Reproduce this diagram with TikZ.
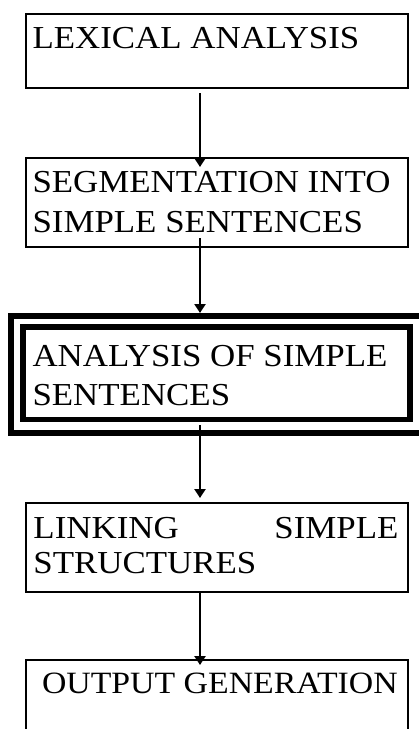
\documentclass[tikz,border=0pt]{standalone}
\usepackage{fontspec}
\setmainfont[FakeStretch=1.09]{Liberation Serif}
\usetikzlibrary{arrows.meta}
\begin{document}
\begin{tikzpicture}[x=1pt,y=-1pt,
  box/.style={draw, line width=2pt, inner sep=0pt, outer sep=0pt, anchor=north west},
  thickbox/.style={box, line width=6pt},
  txt/.style={anchor=base west, inner sep=0pt, outer sep=0pt, font=\fontsize{32}{37}\selectfont},
  flow/.style={line width=2.2pt, -{Triangle[length=9pt,width=11pt]}}]
\useasboundingbox (0,0) rectangle (419,729);
\clip (0,0) rectangle (419,729);
% boxes
\node[box, minimum width=382pt, minimum height=74pt] (b1) at (26,14) {};
\node[box, minimum width=382pt, minimum height=89pt] (b2) at (26,158) {};
\node[thickbox, minimum width=420pt, minimum height=116.5pt] (b3o) at (11,316) {};
\node[thickbox, line width=5.5pt, minimum width=387pt, minimum height=92.5pt] (b3) at (23,327) {};
\node[box, minimum width=382pt, minimum height=89pt] (b4) at (26,503) {};
\node[box, minimum width=382pt, minimum height=100pt] (b5) at (26,660) {};
% texts
\node[txt] (t1) at (32.5,48) {LEXICAL ANALYSIS};
\node[txt] (t2a) at (32.5,192) {SEGMENTATION INTO};
\node[txt] (t2b) at (32.5,232) {SIMPLE SENTENCES};
\node[txt] (t3a) at (32.5,366) {ANALYSIS OF SIMPLE};
\node[txt] (t3b) at (32.5,405) {SENTENCES};
\node[txt] (t4a) at (33.5,538) {\hbox to 365pt{LINKING\hfill SIMPLE}};
\node[txt] (t4b) at (33.5,573) {STRUCTURES};
\node[txt, font=\fontsize{31}{37}\selectfont] (t5) at (42,693) {OUTPUT GENERATION};
% connectors
\coordinate (a1s) at (200,93);  \coordinate (a1e) at (200,167);
\coordinate (a2s) at (200,238); \coordinate (a2e) at (200,313);
\coordinate (a3s) at (200,425); \coordinate (a3e) at (200,498);
\coordinate (a4s) at (200,592); \coordinate (a4e) at (200,665);
\draw[flow] (a1s) -- (a1e);
\draw[flow] (a2s) -- (a2e);
\draw[flow] (a3s) -- (a3e);
\draw[flow] (a4s) -- (a4e);
\end{tikzpicture}
\end{document}
